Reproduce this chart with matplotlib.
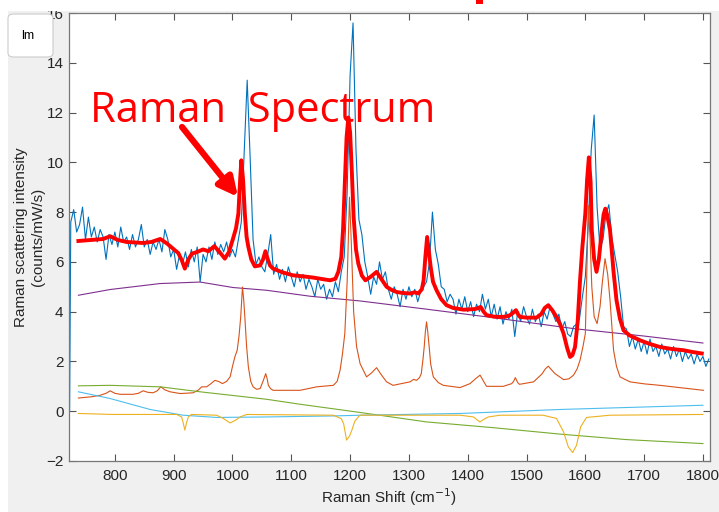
import numpy as np
import matplotlib
matplotlib.use("Agg")
import matplotlib.pyplot as plt
from matplotlib.patches import Rectangle, FancyBboxPatch

plt.rcParams['font.family'] = ['Liberation Sans', 'DejaVu Sans']

shift = [723] + list(range(725, 1811, 5))
measured = [0.0,
    7.6, 8.1, 7.2, 7.5, 8.2, 6.9, 7.8, 7.0, 7.4, 6.8, 7.3, 7.0, 6.1, 7.1, 6.7, 7.2,
    6.6, 7.4, 6.8, 7.0, 6.5, 7.1, 6.6, 6.9, 7.5, 6.6, 6.9, 6.3, 6.8, 6.5, 6.9, 6.4,
    7.3, 6.9, 6.2, 6.5, 5.7, 6.3, 5.9, 6.4, 5.8, 6.5, 6.0, 6.6, 5.2, 6.3, 6.0, 6.6,
    6.1, 6.8, 6.3, 6.7, 6.4, 6.8, 6.2, 6.5, 6.2, 6.9, 7.6, 10.5, 13.3, 10.2, 6.9, 5.9,
    6.2, 5.8, 5.6, 6.3, 7.1, 5.5, 5.9, 5.3, 5.7, 5.2, 5.8, 5.4, 5.0, 5.6, 5.2, 5.5,
    4.9, 5.3, 5.0, 4.6, 5.3, 4.9, 5.1, 4.5, 4.9, 4.6, 5.2, 4.8, 5.6, 6.2, 8.8, 13.5,
    15.6, 10.5, 7.7, 7.1, 6.0, 5.4, 4.7, 5.4, 5.1, 6.0, 5.3, 5.6, 4.9, 4.5, 5.0, 4.7,
    4.2, 4.9, 4.5, 5.0, 4.6, 4.9, 4.4, 4.8, 5.0, 5.2, 6.0, 8.0, 6.5, 5.9, 5.0, 4.9,
    4.4, 4.7, 4.5, 3.9, 4.5, 4.1, 4.6, 4.0, 4.4, 3.8, 4.3, 4.0, 4.7, 4.1, 4.5, 3.8,
    4.3, 3.7, 4.2, 3.5, 4.0, 3.7, 4.1, 3.0, 4.0, 3.6, 4.2, 3.8, 3.5, 4.1, 3.6, 3.9,
    3.4, 4.0, 3.7, 4.2, 3.9, 3.6, 3.9, 3.3, 3.6, 3.1, 3.0, 3.4, 3.5, 3.7, 4.6, 5.4,
    7.5, 10.5, 11.9, 8.2, 6.5, 6.9, 7.9, 8.3, 7.0, 6.3, 5.6, 4.6, 3.4, 3.3, 2.6, 3.0,
    2.5, 2.9, 2.4, 2.8, 2.3, 2.9, 2.4, 2.6, 2.2, 2.7, 2.3, 2.5, 2.1, 2.6, 2.2, 2.5,
    2.0, 2.4, 2.1, 2.3, 1.9, 2.3, 2.0, 2.2, 1.8, 2.1]

# fitted spectrum (red)
fit_x = [738, 760, 780, 792, 805, 820, 835, 848, 862, 877, 888, 899, 908, 914, 919, 925,
         931, 940, 950, 959, 969, 978, 987, 994, 1001, 1006, 1010, 1013, 1015, 1018, 1021,
         1024, 1027, 1032, 1038, 1047, 1052, 1056, 1060, 1064, 1069, 1085, 1103, 1120,
         1137, 1150, 1166, 1175, 1180, 1185, 1188, 1191, 1194, 1197, 1200, 1203, 1206,
         1210, 1214, 1220, 1226, 1235, 1245, 1252, 1262, 1270, 1279, 1290, 1302, 1310,
         1316, 1322, 1325, 1328, 1331, 1334, 1337, 1341, 1347, 1355, 1364, 1375, 1393,
         1410, 1415, 1422, 1427, 1432, 1445, 1455, 1465, 1472, 1477, 1482, 1486, 1489,
         1500, 1517, 1525, 1531, 1537, 1544, 1551, 1557, 1563, 1569, 1574, 1578, 1582.5,
         1587, 1591, 1595, 1600, 1603, 1606, 1609, 1611, 1615, 1619, 1623, 1628, 1631,
         1634, 1637, 1642, 1648, 1653, 1659, 1665, 1675, 1693, 1710, 1727, 1747, 1767,
         1782, 1798]
fit_y = [6.84, 6.88, 6.92, 7.03, 6.88, 6.80, 6.78, 6.76, 6.80, 6.92, 6.75, 6.53, 6.35, 6.05,
         5.73, 6.10, 6.33, 6.40, 6.50, 6.43, 6.63, 6.40, 6.13, 6.40, 6.94, 7.35, 7.94, 9.3,
         10.08, 9.3, 7.94, 7.0, 6.6, 6.1, 5.82, 5.86, 6.1, 6.43, 6.1, 5.85, 5.73, 5.58, 5.46,
         5.42, 5.37, 5.32, 5.26, 5.32, 5.6, 6.2, 7.3, 9.2, 11.0, 11.8, 11.2, 9.6, 7.8, 6.5,
         5.93, 5.45, 5.26, 5.4, 5.6, 5.35, 5.0, 4.88, 4.79, 4.75, 4.73, 4.78, 4.73, 4.9,
         5.26, 6.2, 7.0, 6.4, 5.8, 5.2, 4.86, 4.5, 4.26, 4.15, 4.08, 4.10, 4.12, 4.19, 4.0,
         3.86, 3.80, 3.79, 3.80, 3.86, 3.95, 4.06, 3.88, 3.79, 3.76, 3.76, 3.90, 4.15, 4.26,
         4.05, 3.79, 3.50, 3.12, 2.55, 2.18, 2.25, 2.58, 3.6, 5.26, 6.6, 7.94, 9.3, 10.2,
         9.2, 7.27, 6.1, 5.6, 6.1, 7.27, 7.9, 8.14, 7.9, 7.27, 5.6, 4.46, 3.7, 3.25, 3.05,
         2.85, 2.7, 2.58, 2.5, 2.45, 2.38, 2.32]

# baseline (purple)
base_x = [738, 792, 877, 945, 1001, 1058, 1132, 1217, 1330, 1443, 1580, 1700, 1800]
base_y = [4.66, 4.89, 5.13, 5.19, 4.97, 4.86, 4.62, 4.43, 4.10, 3.76, 3.32, 3.02, 2.74]

# peak components (orange)
peak_x = [738, 760, 775, 785, 792, 800, 809, 831, 840, 848, 856, 865, 872, 878, 885, 894,
          911, 933, 942, 947.5, 956, 963, 970, 976, 983, 990, 996, 1000, 1004, 1008, 1011,
          1014, 1017, 1019, 1021, 1024, 1027, 1031, 1035, 1041, 1047, 1052.5, 1056.5, 1059,
          1061, 1065, 1069, 1115, 1143, 1171.5, 1178, 1183, 1187, 1191, 1195, 1199, 1202,
          1206, 1211, 1217, 1228, 1237, 1245, 1252, 1262, 1273, 1302, 1308, 1313, 1318,
          1321, 1324, 1326, 1328, 1330, 1332, 1334.5, 1337, 1341.5, 1350, 1358.5, 1387,
          1404, 1413, 1421, 1427, 1432, 1460.5, 1475, 1478, 1481, 1485, 1488, 1512, 1526,
          1532, 1537, 1543, 1548.5, 1563, 1572, 1580, 1586, 1591, 1596, 1600, 1602, 1605,
          1608, 1611, 1615, 1620, 1625, 1629, 1633.5, 1638, 1642, 1648, 1653, 1659, 1676,
          1700, 1727, 1760, 1801]
peak_y = [0.53, 0.58, 0.64, 0.72, 0.82, 0.72, 0.68, 0.68, 0.72, 0.82, 0.76, 0.74, 0.82,
          0.98, 0.86, 0.78, 0.71, 0.74, 0.85, 0.98, 0.98, 1.1, 1.24, 1.20, 1.11, 1.20, 1.38,
          1.8, 2.18, 2.45, 3.0, 3.79, 4.99, 4.5, 3.79, 2.6, 1.78, 1.2, 0.98, 0.88, 0.91,
          1.24, 1.51, 1.3, 1.04, 0.9, 0.84, 0.84, 0.98, 1.04, 1.2, 1.65, 2.3, 3.12, 5.2,
          8.6, 6.8, 4.0, 2.6, 1.91, 1.38, 1.55, 1.75, 1.5, 1.18, 1.04, 1.18, 1.28, 1.24,
          1.35, 1.51, 2.1, 2.58, 3.2, 3.59, 3.2, 2.58, 1.9, 1.38, 1.15, 1.04, 0.95, 1.11,
          1.3, 1.45, 1.2, 1.0, 1.0, 1.11, 1.2, 1.35, 1.15, 1.08, 1.18, 1.49, 1.7, 1.81, 1.65,
          1.51, 1.27, 1.3, 1.45, 1.7, 2.05, 2.6, 3.12, 5.0, 8.27, 7.0, 5.0, 3.8, 3.52, 4.2,
          5.2, 6.13, 5.5, 4.46, 2.45, 1.8, 1.38, 1.18, 1.1, 1.04, 0.95, 0.84]

# green component
green_x = [738, 792, 877, 945, 1058, 1115, 1217, 1330, 1443, 1557, 1670, 1800]
green_y = [1.02, 1.04, 0.98, 0.78, 0.48, 0.28, -0.05, -0.43, -0.66, -0.92, -1.14, -1.30]

# cyan component
cyan_x = [738, 792, 860, 916, 973, 1058, 1171, 1217, 1387, 1557, 1800]
cyan_y = [0.78, 0.51, 0.07, -0.16, -0.25, -0.23, -0.19, -0.16, -0.09, 0.07, 0.24]

# negative peaks (yellow)
neg_x = [738, 797, 905, 913.5, 916, 919, 922, 925, 930, 973, 985, 996, 1006, 1013, 1024,
         1171.5, 1185, 1189, 1194, 1199, 1203, 1208, 1214, 1217, 1387, 1410, 1416, 1421,
         1427, 1435, 1455, 1528, 1551, 1563, 1571, 1578.5, 1585, 1592, 1602, 1642, 1800]
neg_y = [-0.09, -0.13, -0.13, -0.23, -0.45, -0.76, -0.45, -0.23, -0.13, -0.16, -0.3, -0.47,
         -0.35, -0.23, -0.13, -0.16, -0.3, -0.5, -1.16, -1.0, -0.76, -0.4, -0.23, -0.16,
         -0.16, -0.23, -0.35, -0.43, -0.33, -0.23, -0.16, -0.16, -0.29, -0.83, -1.43, -1.66,
         -1.37, -0.63, -0.25, -0.16, -0.13]

xticks = list(range(800, 1801, 100))
yticks = list(range(-2, 17, 2))

fig = plt.figure(figsize=(7.19, 5.12), dpi=100, facecolor='#f0f0f0')
ax = fig.add_axes([69 / 719, 1 - 461 / 512, 641 / 719, 448 / 512])

ax.plot(shift, measured, color='#0072BD', lw=0.8)
ax.plot(base_x, base_y, color='#7E2F8E', lw=0.8)
ax.plot(peak_x, peak_y, color='#D95319', lw=0.8)
ax.plot(green_x, green_y, color='#77AC30', lw=0.8)
ax.plot(cyan_x, cyan_y, color='#4DBEEE', lw=0.8)
ax.plot(neg_x, neg_y, color='#EDB120', lw=0.8)
ax.plot(fit_x, fit_y, color='red', lw=2.8)

ax.set_xlim(722, 1812)
ax.set_ylim(-2, 16)
ax.set_xticks(xticks)
ax.set_yticks(yticks)
ax.tick_params(direction='in', length=5, width=0.8, color='#555555', labelcolor='#262626',
               labelsize=11, top=True, right=True)
ax.tick_params(axis='x', pad=6)
ax.tick_params(axis='y', pad=4)
for s in ax.spines.values():
    s.set_color('#777777')
    s.set_linewidth(0.9)
ax.set_xlabel('Raman Shift (cm$^{-1}$)', fontsize=11, color='#262626', labelpad=2)
ax.set_ylabel('Raman scattering intensity\n(counts/mW/s)', fontsize=11, color='#262626',
              labelpad=1)

# annotation
fig.text(90 / 719, 1 - 122 / 512, 'Raman  Spectrum', color='red', fontsize=30,
         family=['Open Sans', 'DejaVu Sans'], va='baseline', ha='left')
ax.annotate('', xy=(238, 512 - 197), xycoords='figure pixels',
            xytext=(182, 512 - 127), textcoords='figure pixels',
            arrowprops=dict(arrowstyle='-|>', lw=4.5, color='red', mutation_scale=28,
                            shrinkA=0, shrinkB=0))

# window clutter from the screenshot
fig.patches.append(Rectangle((0, 1 - 11 / 512), 1, 11 / 512, transform=fig.transFigure,
                             facecolor='white', edgecolor='none', zorder=10))
fig.patches.append(Rectangle((0, 0), 8 / 719, 1, transform=fig.transFigure,
                             facecolor='white', edgecolor='none', zorder=10))
fig.patches.append(FancyBboxPatch((8 / 719, 1 - 57 / 512), 45 / 719, 43 / 512,
                                  boxstyle='round,pad=0,rounding_size=0.008',
                                  transform=fig.transFigure, facecolor='white',
                                  edgecolor='#cccccc', lw=0.8, zorder=11))
fig.text(28 / 719, 1 - 36 / 512, 'lm', fontsize=9, ha='center', va='center', zorder=12)
fig.patches.append(Rectangle((476 / 719, 1 - 4 / 512), 7 / 719, 4 / 512,
                             transform=fig.transFigure, facecolor='red',
                             edgecolor='none', zorder=12))

fig.savefig('out.png', dpi=100, facecolor=fig.get_facecolor())
